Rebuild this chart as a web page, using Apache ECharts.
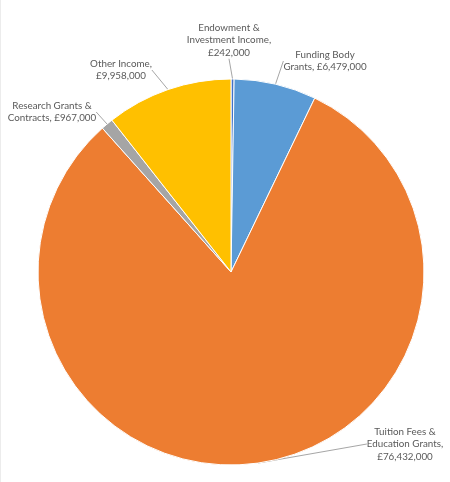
<!DOCTYPE html>
<html>
<head>
<meta charset="utf-8">
<script src="https://cdn.jsdelivr.net/npm/echarts@6/dist/echarts.min.js"></script>
<style>
  html, body { margin: 0; padding: 0; background: #fff; }
  #chart { width: 450px; height: 482px; }
  /* faint edge left over from the Excel screenshot */
  .edge { position: absolute; left: 0; top: 0; width: 1px; height: 482px; background: #ececec; z-index: 2; }
</style>
</head>
<body>
<div class="edge"></div>
<div id="chart"></div>
<script>
var categories = [
  'Endowment &\nInvestment Income',
  'Funding Body\nGrants',
  'Tuition Fees &\nEducation Grants',
  'Research Grants &\nContracts',
  'Other Income'
]
var values = [242000, 6479000, 76432000, 967000, 9958000]
var colors = ['#4472C4', '#5B9BD5', '#ED7D31', '#A5A5A5', '#FFC000']

// where Excel put each label (centre of the text block)
var labelSpots = [
  { x: 229, y: 40 },
  { x: 325, y: 61 },
  { x: 405, y: 444 },
  { x: 52, y: 112 },
  { x: 121, y: 70 }
]

function fmt(v) {
  return '£' + v.toLocaleString('en-GB')
}

var chart = echarts.init(document.getElementById('chart'))
chart.setOption({
  backgroundColor: '#fff',
  animation: false,
  series: [
    {
      type: 'pie',
      center: [231, 272],
      radius: 193,
      startAngle: 90,
      clockwise: true,
      data: categories.map(function (c, i) {
        return { name: c, value: values[i], itemStyle: { color: colors[i] } }
      }),
      itemStyle: { borderColor: '#fff', borderWidth: 1 },
      label: {
        show: true,
        position: 'outside',
        alignTo: 'none',
        overflow: 'none',
        color: '#595959',
        fontFamily: 'Lato',
        fontSize: 9.8,
        lineHeight: 12.5,
        align: 'center',
        formatter: function (p) {
          // Excel puts the comma after the name, then the amount
          var lines = p.name.split('\n')
          var amount = fmt(p.value)
          if (p.dataIndex === 1 || p.dataIndex === 3) {
            return lines[0] + '\n' + lines[1] + ', ' + amount
          }
          return p.name + ',\n' + amount
        }
      },
      labelLine: {
        show: true,
        length: 8,
        length2: 0,
        lineStyle: { color: '#A6A6A6', width: 1 }
      },
      labelLayout: function (params) {
        var s = labelSpots[params.dataIndex]
        return { x: s.x, y: s.y, align: 'center', verticalAlign: 'middle' }
      }
    }
  ]
})
</script>
</body>
</html>
